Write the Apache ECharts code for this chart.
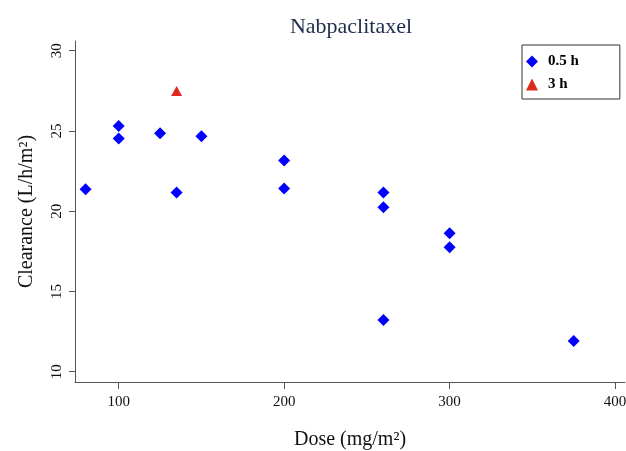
<!DOCTYPE html>
<html>
<head>
<meta charset="utf-8">
<script src="https://cdn.jsdelivr.net/npm/echarts@6/dist/echarts.min.js"></script>
<style>html,body{margin:0;padding:0;background:#fff;}#c{width:626px;height:451px;}</style>
</head>
<body>
<div id="c"></div>
<script>
const xTicks = [100, 200, 300, 400];
const yTicks = [10, 15, 20, 25, 30];
const dose05 = [80, 100, 100, 125, 135, 150, 200, 200, 260, 260, 260, 300, 300, 375];
const clear05 = [21.36, 25.3, 24.53, 24.86, 21.17, 24.66, 23.16, 21.42, 21.17, 20.24, 13.22, 18.62, 17.76, 11.91];
const dose3 = [135];
const clear3 = [27.48];

const serif = "'Liberation Serif', 'DejaVu Serif', serif";
const axisGray = '#555';

const chart = echarts.init(document.getElementById('c'));
chart.setOption({
  animation: false,
  backgroundColor: '#fff',
  title: {
    text: 'Nabpaclitaxel',
    left: 346, top: 11, textAlign: 'center',
    textStyle: { fontFamily: serif, fontSize: 22, fontWeight: 'normal', color: '#1f2d4d' }
  },
  legend: {
    orient: 'vertical',
    left: 522, top: 45,
    padding: [9, 41, 7, 4],
    itemGap: 8,
    itemWidth: 12, itemHeight: 12,
    borderColor: '#333', borderWidth: 1,
    backgroundColor: '#fff',
    textStyle: { fontFamily: serif, fontSize: 15, fontWeight: 'bold', color: '#000', padding: [0, 0, 0, 5] },
    data: [
      { name: '0.5 h', icon: 'diamond' },
      { name: '3 h', icon: 'triangle' }
    ]
  },
  grid: { left: 75, right: 1, top: 41, bottom: 69, containLabel: false, outerBoundsMode: 'none' },
  xAxis: {
    type: 'value',
    min: 73.6, max: 406,
    splitLine: { show: false },
    axisLine: { show: true, lineStyle: { color: axisGray, width: 1 } },
    axisTick: { show: true, length: 7, lineStyle: { color: axisGray }, customValues: xTicks },
    axisLabel: { customValues: xTicks, margin: 13, fontFamily: serif, fontSize: 15, color: '#111' },
    name: 'Dose (mg/m²)',
    nameLocation: 'middle', nameGap: 48,
    nameTextStyle: { fontFamily: serif, fontSize: 20, color: '#111' }
  },
  yAxis: {
    type: 'value',
    min: 9.36, max: 30.6,
    splitLine: { show: false },
    axisLine: { show: true, lineStyle: { color: axisGray, width: 1 } },
    axisTick: { show: true, length: 6, lineStyle: { color: axisGray }, customValues: yTicks },
    axisLabel: { customValues: yTicks, rotate: 90, margin: 10, fontFamily: serif, fontSize: 15, color: '#111' },
    name: 'Clearance (L/h/m²)',
    nameLocation: 'middle', nameGap: 38,
    nameTextStyle: { fontFamily: serif, fontSize: 20, color: '#111' }
  },
  series: [
    {
      name: '0.5 h', type: 'scatter', symbol: 'diamond', symbolSize: 12,
      itemStyle: { color: '#0000ff', opacity: 1 },
      data: dose05.map((d, i) => [d, clear05[i]])
    },
    {
      name: '3 h', type: 'scatter', symbol: 'triangle', symbolSize: [11, 10],
      itemStyle: { color: '#dc2b1e', opacity: 1 },
      data: dose3.map((d, i) => [d, clear3[i]])
    }
  ]
});
</script>
</body>
</html>
